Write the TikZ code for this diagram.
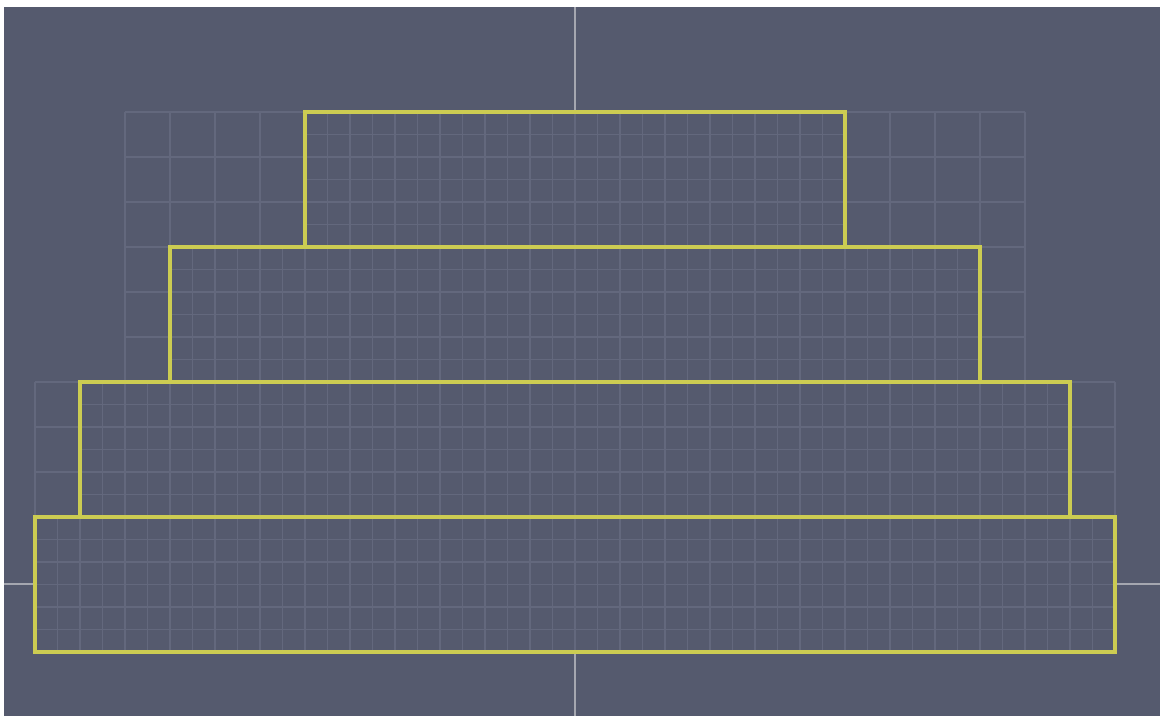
\documentclass[tikz,border=0pt]{standalone}
\definecolor{bgc}{RGB}{85,90,110}
\definecolor{gridc}{RGB}{99,104,125}
\definecolor{axisc}{RGB}{165,167,176}
\definecolor{yel}{RGB}{204,204,82}
\begin{document}
\begin{tikzpicture}[x=1pt,y=-1pt,
  gridline/.style={draw=gridc, line width=1.3pt},
  outline/.style={draw=yel, line width=4.5pt, line join=miter},
  axisline/.style={draw=axisc, line width=1.2pt}]
\useasboundingbox (0,0) rectangle (1160,716);
\fill[white] (0,0) rectangle (1160,716);
\fill[bgc] (4,7) rectangle (1160,716);
% axes
\draw[axisline] (575,7) -- (575,716);
\draw[axisline] (4,584) -- (1160,584);
% layer grids
\foreach \t/\ex/\nc/\rx/\nf in {112/125/20/305/24, 247/125/20/170/36, 382/35/24/80/44, 517/35/24/35/48}{
  \fill[bgc] (\ex,\t) rectangle ({1150-\ex},{\t+135});
  \foreach \i in {0,...,\nc}
    \draw[gridline] ({\ex+45*\i},\t) -- ({\ex+45*\i},{\t+135});
  \foreach \j in {0,...,3}
    \draw[gridline] (\ex,{\t+45*\j}) -- ({1150-\ex},{\t+45*\j});
  \foreach \i in {0,...,\nf}
    \draw[gridline] ({\rx+22.5*\i},\t) -- ({\rx+22.5*\i},{\t+135});
  \foreach \j in {0,...,6}
    \draw[gridline] (\rx,{\t+22.5*\j}) -- ({1150-\rx},{\t+22.5*\j});
}
% yellow outlines
\foreach \t/\rx in {112/305, 247/170, 382/80, 517/35}{
  \draw[outline] (\rx,\t) rectangle ({1150-\rx},{\t+135});
}
\end{tikzpicture}
\end{document}
